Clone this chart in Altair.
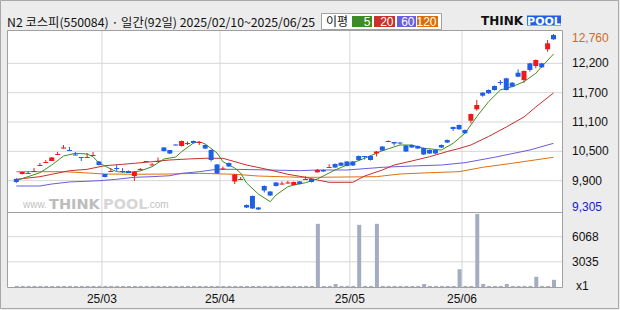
import altair as alt
import pandas as pd

# ---------------- data ----------------
idx = list(range(92))
opens = [9914, 10012, 10031, 10051, 10169, 10228, 10267, 10385, 10512, 10483,
         10395, 10345, 10326, 10365, 10257, 10012, 10051, 10130, 10071, 10071,
         9972, 10090, 10267, 10179, 10247, 10532, 10483, 10591, 10561, 10600,
         10660, 10620, 10581, 10483, 10199, 10100, 10228, 9865, 9894, 9403,
         9580, 9354, 9776, 9668, 9845, 9805, 9825, 9796, 9865, 9894,
         9914, 10045, 10090, 10130, 10208, 10233, 10257, 10257, 10365, 10365,
         10365, 10414, 10551, 10640, 10640, 10630, 10571, 10581, 10561, 10522,
         10483, 10483, 10581, 10679, 10934, 10974, 10875, 11058, 11282, 11608,
         11661, 11739, 11818, 11890, 11804, 12000, 11857, 12184, 12132, 12184,
         12460, 12740]
closes = [9855, 10051, 10012, 10071, 10189, 10247, 10336, 10404, 10532, 10463,
          10375, 10326, 10345, 10385, 10189, 9953, 10071, 10110, 10051, 10031,
          10051, 10110, 10247, 10199, 10267, 10463, 10414, 10571, 10660, 10620,
          10620, 10640, 10512, 10287, 10022, 10120, 10160, 10002, 9914, 9354,
          9335, 9315, 9688, 9590, 9776, 9825, 9845, 9855, 9815, 9914,
          9855, 10090, 10061, 10149, 10139, 10174, 10169, 10179, 10287, 10345,
          10287, 10453, 10473, 10660, 10610, 10610, 10453, 10532, 10512, 10395,
          10414, 10414, 10532, 10630, 10895, 10890, 10811, 11189, 11366, 11549,
          11596, 11661, 11798, 11661, 11726, 11922, 12034, 12053, 12250, 12106,
          12577, 12656]
highs = [9933, 10060, 10071, 10130, 10228, 10287, 10345, 10444, 10581, 10542,
         10444, 10345, 10424, 10444, 10267, 10012, 10130, 10189, 10130, 10080,
         10060, 10130, 10267, 10228, 10336, 10542, 10483, 10591, 10670, 10650,
         10670, 10650, 10591, 10493, 10208, 10160, 10238, 10012, 9953, 9413,
         9590, 9364, 9786, 9678, 9855, 9865, 9874, 9865, 9874, 9962,
         9923, 10110, 10100, 10203, 10218, 10243, 10267, 10267, 10375, 10365,
         10375, 10463, 10561, 10670, 10640, 10630, 10581, 10591, 10571, 10532,
         10493, 10493, 10591, 10689, 10944, 10983, 10885, 11199, 11464, 11618,
         11671, 11749, 11857, 11900, 11814, 12067, 12044, 12194, 12260, 12194,
         12642, 12760]
lows = [9835, 10000, 10012, 10051, 10169, 10228, 10267, 10385, 10512, 10463,
        10375, 10267, 10326, 10365, 10179, 9943, 10051, 10071, 10031, 10031,
        9874, 10080, 10247, 10179, 10247, 10453, 10404, 10571, 10551, 10581,
        10610, 10581, 10502, 10257, 10012, 10090, 10149, 9815, 9894, 9344,
        9325, 9305, 9649, 9580, 9767, 9805, 9825, 9786, 9806, 9894,
        9845, 10041, 10051, 10130, 10130, 10169, 10160, 10169, 10267, 10296,
        10277, 10355, 10463, 10640, 10571, 10591, 10444, 10522, 10502, 10385,
        10404, 10404, 10522, 10620, 10856, 10880, 10801, 11007, 11254, 11529,
        11586, 11651, 11759, 11651, 11716, 11912, 11804, 12020, 12087, 12096,
        12413, 12646]
volumes = [130, 130, 130, 130, 130, 130, 130, 130, 130, 130,
           130, 130, 130, 130, 130, 130, 130, 130, 130, 130,
           130, 130, 130, 130, 130, 130, 130, 130, 130, 130,
           130, 130, 130, 130, 130, 130, 130, 130, 130, 130,
           130, 130, 130, 130, 130, 130, 130, 130, 130, 130,
           130, 7616, 130, 130, 360, 130, 130, 130, 7497, 130,
           130, 7616, 130, 130, 130, 130, 130, 130, 130, 360,
           130, 130, 130, 130, 130, 2142, 130, 130, 8806, 360,
           130, 130, 130, 360, 130, 130, 130, 130, 1226, 130,
           130, 869]

ma5_i = [0, 4, 6, 8, 10, 12, 13, 14, 16, 17, 19, 21, 23, 25, 27, 28, 30, 31, 32, 34,
         35, 37, 38, 39, 41, 43, 44, 46, 47, 49, 51, 54, 56, 59, 62, 65, 67, 69, 72, 74,
         76, 78, 80, 82, 84, 86, 88, 89, 91]
ma5_v = [9884, 10037, 10188, 10365, 10418, 10404, 10351, 10228, 10110, 10057, 10045, 10071,
         10155, 10306, 10345, 10449, 10620, 10646, 10601, 10424, 10253, 10129, 10031, 9835,
         9619, 9468, 9599, 9762, 9796, 9841, 9914, 10090, 10188, 10320, 10469, 10581, 10581,
         10516, 10483, 10614, 10811, 11137, 11431, 11661, 11726, 11824, 11989, 12118, 12367]
ma20_i = [0, 4, 6, 9, 12, 15, 18, 20, 23, 26, 29, 32, 35, 36, 39, 43, 46, 49, 51, 53, 57,
          59, 62, 64, 67, 70, 73, 75, 77, 80, 83, 86, 88, 91]
ma20_v = [9908, 9959, 10006, 10076, 10104, 10175, 10202, 10222, 10253, 10287, 10306, 10320,
          10320, 10287, 10188, 10090, 10006, 9947, 9894, 9849, 9849, 9972, 10090, 10188, 10267,
          10351, 10453, 10512, 10581, 10748, 10934, 11131, 11327, 11602]
ma60_i = [0, 4, 6, 9, 14, 17, 20, 23, 26, 28, 31, 34, 37, 43, 48, 51, 56, 62, 67, 72, 76, 81, 87, 91]
ma60_v = [9776, 9776, 9815, 9855, 9880, 9908, 9947, 9959, 9978, 10025, 10057, 10104, 10104,
          10090, 10077, 10090, 10090, 10143, 10169, 10188, 10234, 10340, 10483, 10614]
ma120_i = [0, 8, 10, 13, 15, 20, 26, 31, 37, 41, 48, 51, 61, 65, 70, 75, 79, 84, 91]
ma120_v = [10057, 10057, 10045, 10025, 10012, 10006, 10012, 10025, 10006, 9972, 9947, 9947,
           9959, 10012, 10037, 10057, 10143, 10222, 10340]

month_pos = [14.5, 34.5, 56.5, 75.5]
month_labels = ["25/03", "25/04", "25/05", "25/06"]
price_min, price_max = 9305, 12760
price_grid = [9880.83, 10456.67, 11032.5, 11608.33, 12184.17]
price_grid_labels = ["9,900", "10,500", "11,100", "11,700", "12,200"]
vol_max = 9102
vol_grid = [3034, 6068]
vol_grid_labels = ["3035", "6068"]
title_text = "N2 코스피(550084) · 일간(92일) 2025/02/10~2025/06/25"
ma_names = ["5", "20", "60", "120"]

# ---------------- styles ----------------
RED, BLUE = "#f01818", "#1f5fe6"
C5, C20, C60, C120 = "#3f8f1f", "#c4302c", "#6a5cde", "#e0700f"
LEG = ["#3c8a28", "#c83228", "#6a60d8", "#dc6e0a"]
GRID = "#d6d6d6"
BORDER = "#a0a0a0"
LBL_FONT = "Liberation Sans"
KR_FONT = "Noto Sans CJK KR"

XS = alt.Scale(domain=[-11.5 / 6, (620 - 11.5) / 6], range=[0, 620], nice=False, zero=False)
PY = alt.Scale(domain=[price_min, price_max], range=[210, 34], nice=False, zero=False)
VY = alt.Scale(domain=[0, vol_max], range=[287, 211.5], nice=False, zero=False)

one = pd.DataFrame({"t": [""]})


def box(x1, x2, y1, y2, **kw):
    return alt.Chart(one).mark_rect(**kw).encode(
        x=alt.value(x1), x2=alt.value(x2), y=alt.value(y1), y2=alt.value(y2))


def label(txt, x, y, **kw):
    return alt.Chart(pd.DataFrame({"t": [txt]})).mark_text(**kw).encode(
        x=alt.value(x), y=alt.value(y), text="t:N")


df = pd.DataFrame({"i": idx, "o": opens, "h": highs, "l": lows, "c": closes, "v": volumes})
df["d"] = ["up" if c >= o else "down" for o, c in zip(opens, closes)]
color = alt.Color("d:N", scale=alt.Scale(domain=["up", "down"], range=[RED, BLUE]), legend=None)
xenc = alt.X("i:Q", scale=XS, axis=None)

layers = []
# background and panel
layers.append(box(0.5, 618.5, 0.5, 308.5, fill="#ececec", stroke="#a8a8a8", strokeWidth=1))
layers.append(box(7.5, 562.5, 30.5, 287.5, fill="white"))

# watermark
wm_col = "#c2c2c2"
layers.append(label("www.", 23, 208, align="left", baseline="alphabetic", fontSize=10,
                    font=LBL_FONT, color=wm_col))
layers.append(label("THINK", 49, 208.5, align="left", baseline="alphabetic", fontSize=14.5,
                    font="DejaVu Sans", fontWeight="bold", color="#bcbcbc"))
layers.append(label("POOL", 103, 208.5, align="left", baseline="alphabetic", fontSize=14.5,
                    font="DejaVu Sans", fontWeight="bold", color="#d6d6d6"))
layers.append(label(".com", 147, 208, align="left", baseline="alphabetic", fontSize=10,
                    font=LBL_FONT, color=wm_col))

# gridlines
layers.append(alt.Chart(pd.DataFrame({"p": month_pos})).mark_rule(color=GRID, strokeWidth=1).encode(
    x=alt.X("p:Q", scale=XS, axis=None), y=alt.value(30.5), y2=alt.value(287.5)))
layers.append(alt.Chart(pd.DataFrame({"v": price_grid})).mark_rule(color=GRID, strokeWidth=1).encode(
    y=alt.Y("v:Q", scale=PY, axis=None), x=alt.value(7.5), x2=alt.value(562.5)))
layers.append(alt.Chart(pd.DataFrame({"v": vol_grid})).mark_rule(color=GRID, strokeWidth=1).encode(
    y=alt.Y("v:Q", scale=VY, axis=None), x=alt.value(7.5), x2=alt.value(562.5)))

# moving averages
for mi, mv, col in [(ma120_i, ma120_v, C120), (ma60_i, ma60_v, C60),
                    (ma20_i, ma20_v, C20), (ma5_i, ma5_v, C5)]:
    layers.append(alt.Chart(pd.DataFrame({"i": mi, "m": mv})).mark_line(
        color=col, strokeWidth=1).encode(
        x=xenc, y=alt.Y("m:Q", scale=PY, axis=None)))

# candles
base = alt.Chart(df)
layers.append(base.mark_rule(strokeWidth=1).encode(
    x=xenc, y=alt.Y("l:Q", scale=PY, axis=None), y2="h:Q", color=color))
layers.append(base.mark_bar(size=5).encode(
    x=xenc, y=alt.Y("o:Q", scale=PY, axis=None), y2="c:Q", color=color))

# volume
layers.append(base.mark_bar(size=4, color="#a3adc2", xOffset=0.5).encode(
    x=xenc, y=alt.Y("v:Q", scale=VY, axis=None), y2=alt.datum(0)))

# separator and panel border
layers.append(alt.Chart(one).mark_rule(color=BORDER, strokeWidth=1).encode(
    x=alt.value(7.5), x2=alt.value(562.5), y=alt.value(212.5)))
layers.append(box(7.5, 562.5, 30.5, 287.5, fill=None, filled=False, stroke=BORDER, strokeWidth=1))

# right axis labels
layers.append(alt.Chart(pd.DataFrame({"v": price_grid, "t": price_grid_labels})).mark_text(
    align="left", baseline="middle", fontSize=12, font=LBL_FONT, color="#111111").encode(
    x=alt.value(572), y=alt.Y("v:Q", scale=PY, axis=None), text="t:N"))
layers.append(alt.Chart(pd.DataFrame({"v": [price_max], "t": ["12,760"]})).mark_text(
    align="left", baseline="middle", fontSize=12, font=LBL_FONT, color="#d2691e", dy=4).encode(
    x=alt.value(572), y=alt.Y("v:Q", scale=PY, axis=None), text="t:N"))
layers.append(alt.Chart(pd.DataFrame({"v": [price_min], "t": ["9,305"]})).mark_text(
    align="left", baseline="middle", fontSize=12, font=LBL_FONT, color="#1a1ad0", dy=-3).encode(
    x=alt.value(572), y=alt.Y("v:Q", scale=PY, axis=None), text="t:N"))
layers.append(alt.Chart(pd.DataFrame({"v": vol_grid, "t": vol_grid_labels})).mark_text(
    align="left", baseline="middle", fontSize=12, font=LBL_FONT, color="#111111").encode(
    x=alt.value(572), y=alt.Y("v:Q", scale=VY, axis=None), text="t:N"))
layers.append(alt.Chart(pd.DataFrame({"v": [0], "t": ["x1"]})).mark_text(
    align="left", baseline="middle", fontSize=12, font=LBL_FONT, color="#111111", dy=-1).encode(
    x=alt.value(576), y=alt.Y("v:Q", scale=VY, axis=None), text="t:N"))

# month labels
layers.append(alt.Chart(pd.DataFrame({"p": month_pos, "t": month_labels})).mark_text(
    align="center", baseline="middle", fontSize=12, font=LBL_FONT, color="#111111").encode(
    x=alt.X("p:Q", scale=XS, axis=None), y=alt.value(299), text="t:N"))

# header
layers.append(label(title_text, 7, 27, align="left", baseline="alphabetic", fontSize=12.3,
                    font=KR_FONT, color="#111111"))
layers.append(box(321.5, 441.5, 13.5, 29.5, fill="white", stroke=BORDER, strokeWidth=1))
layers.append(label("이평", 326, 26, align="left", baseline="alphabetic", fontSize=12,
                    font=KR_FONT, color="#111111"))
cells = [(352, 372), (374, 395), (397, 416), (417, 438)]
for (cx1, cx2), col, nm in zip(cells, LEG, ma_names):
    layers.append(box(cx1, cx2, 16, 27, fill=col))
    layers.append(label(nm, cx2 - 1.5, 25.5, align="right", baseline="alphabetic", fontSize=12,
                        font=LBL_FONT, color="white"))

# logo
layers.append(label("THINK", 481, 25, align="left", baseline="alphabetic", fontSize=12,
                    font="DejaVu Sans", fontWeight="bold", color="#111111"))
layers.append(box(527, 561, 15.5, 25.5, fill="#1f5fe8"))
layers.append(label("POOL", 544, 24.5, align="center", baseline="alphabetic", fontSize=11,
                    font="DejaVu Sans", fontWeight="bold", color="white"))

chart = alt.layer(*layers).resolve_scale(y="independent").properties(
    width=620, height=310, autosize=alt.AutoSizeParams(type="none"), padding=0,
    background="#ececec"
).configure_view(stroke=None)

chart.save("out.html", embed_options={"renderer": "svg", "actions": False})
